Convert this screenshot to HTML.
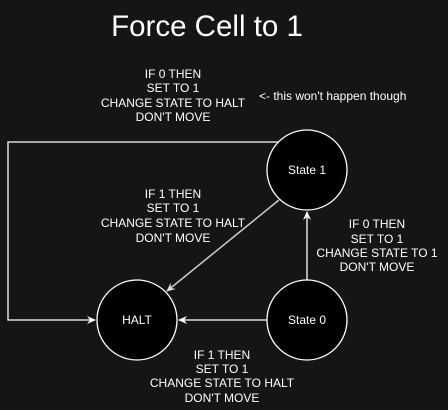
<!DOCTYPE html>
<html><head><style>
html,body{margin:0;padding:0;background:#151515;}
svg{display:block}
text{font-family:"Liberation Sans",Arial,sans-serif;fill:#fff;}
.l{font-size:12px;text-anchor:middle;}
</style></head><body>
<svg width="448" height="410" viewBox="0 0 448 410">
<rect width="448" height="410" fill="#151515"/>
<defs>
<marker id="a" markerWidth="10" markerHeight="10" refX="8" refY="5" orient="auto" markerUnits="userSpaceOnUse">
<path d="M0,1 L9,5 L0,9 L3,5 Z" fill="#fff"/></marker>
<marker id="b" markerWidth="10" markerHeight="10" refX="8" refY="5" orient="auto" markerUnits="userSpaceOnUse">
<path d="M0,1 L9,5 L0,9 L3,5 Z" fill="#ddd"/></marker>
</defs>
<text x="207" y="36" font-size="29.5" text-anchor="middle">Force Cell to 1</text>
<text x="173" y="78" class="l">IF 0 THEN</text>
<text x="173" y="92" class="l">SET TO 1</text>
<text x="173" y="107" class="l">CHANGE STATE TO HALT</text>
<text x="173" y="121" class="l">DON'T MOVE</text>
<text x="173" y="198" class="l">IF 1 THEN</text>
<text x="173" y="212" class="l">SET TO 1</text>
<text x="173" y="227" class="l">CHANGE STATE TO HALT</text>
<text x="173" y="242" class="l">DON'T MOVE</text>
<text x="377" y="228" class="l">IF 0 THEN</text>
<text x="377" y="243" class="l">SET TO 1</text>
<text x="377" y="257" class="l">CHANGE STATE TO 1</text>
<text x="377" y="271" class="l">DON'T MOVE</text>
<text x="222" y="359" class="l">IF 1 THEN</text>
<text x="222" y="373" class="l">SET TO 1</text>
<text x="222" y="387" class="l">CHANGE STATE TO HALT</text>
<text x="222" y="402" class="l">DON'T MOVE</text>
<text x="259" y="100" font-size="12">&lt;- this won't happen though</text>
<polyline points="279,142 8,142 8,320 95,320" fill="none" stroke="#fff" stroke-width="1.3" marker-end="url(#a)"/>
<line x1="268" y1="320" x2="179" y2="320" stroke="#fff" stroke-width="1.3" marker-end="url(#a)"/>
<line x1="307" y1="280" x2="307" y2="212" stroke="#fff" stroke-width="1.3" marker-end="url(#a)"/>
<line x1="279" y1="200" x2="167" y2="291" stroke="#ccc" stroke-width="1.5" marker-end="url(#b)"/>
<circle cx="307" cy="170" r="40" fill="#000" stroke="#fff" stroke-width="1.3"/>
<circle cx="137" cy="320" r="40" fill="#000" stroke="#fff" stroke-width="1.3"/>
<circle cx="307" cy="320" r="40" fill="#000" stroke="#fff" stroke-width="1.3"/>
<text x="307" y="174" class="l">State 1</text>
<text x="137" y="324" class="l">HALT</text>
<text x="307" y="324" class="l">State 0</text>
</svg>
</body></html>
